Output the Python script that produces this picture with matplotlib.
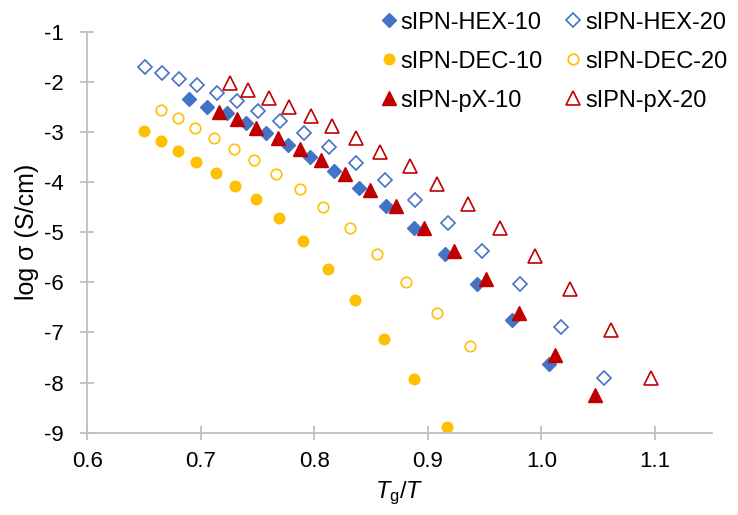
import matplotlib
matplotlib.use("Agg")
import matplotlib.pyplot as plt

# Datos (Tg/T, log sigma)
hex10_x = [0.690, 0.7055, 0.723, 0.740, 0.7575, 0.777, 0.796, 0.817, 0.839, 0.863, 0.888, 0.915, 0.943, 0.974, 1.007]
hex10_y = [-2.34, -2.50, -2.63, -2.83, -3.03, -3.26, -3.49, -3.78, -4.11, -4.47, -4.91, -5.43, -6.04, -6.75, -7.62]

hex20_x = [0.651, 0.666, 0.681, 0.697, 0.714, 0.732, 0.750, 0.770, 0.791, 0.813, 0.837, 0.862, 0.889, 0.918, 0.948, 0.981, 1.017, 1.055]
hex20_y = [-1.71, -1.82, -1.94, -2.06, -2.22, -2.38, -2.58, -2.78, -3.02, -3.30, -3.61, -3.96, -4.35, -4.81, -5.37, -6.04, -6.89, -7.91]

dec10_x = [0.650, 0.665, 0.680, 0.696, 0.713, 0.730, 0.749, 0.769, 0.790, 0.812, 0.836, 0.861, 0.888, 0.917]
dec10_y = [-2.98, -3.18, -3.38, -3.59, -3.81, -4.07, -4.34, -4.71, -5.18, -5.74, -6.36, -7.13, -7.92, -8.88]

dec20_x = [0.665, 0.680, 0.695, 0.712, 0.729, 0.747, 0.766, 0.787, 0.808, 0.831, 0.855, 0.881, 0.908, 0.937]
dec20_y = [-2.57, -2.73, -2.92, -3.12, -3.33, -3.56, -3.83, -4.13, -4.50, -4.92, -5.43, -5.99, -6.61, -7.27]

px10_x = [0.716, 0.732, 0.749, 0.768, 0.787, 0.806, 0.827, 0.849, 0.872, 0.897, 0.923, 0.951, 0.980, 1.012, 1.047]
px10_y = [-2.60, -2.75, -2.93, -3.12, -3.33, -3.55, -3.83, -4.15, -4.48, -4.91, -5.38, -5.94, -6.61, -7.44, -8.25]

px20_x = [0.726, 0.742, 0.760, 0.778, 0.797, 0.816, 0.837, 0.858, 0.884, 0.908, 0.935, 0.964, 0.994, 1.025, 1.061, 1.097]
px20_y = [-2.03, -2.16, -2.33, -2.50, -2.68, -2.88, -3.12, -3.40, -3.68, -4.03, -4.44, -4.92, -5.48, -6.14, -6.95, -7.90]

x_ticks = [0.6, 0.7, 0.8, 0.9, 1.0, 1.1]
y_ticks = [-9, -8, -7, -6, -5, -4, -3, -2, -1]

azul = "#4472C4"
naranja = "#FFC000"
rojo = "#C00000"
gris = "#BFBFBF"

plt.rcParams["font.family"] = ["Liberation Sans", "DejaVu Sans"]
plt.rcParams["axes.unicode_minus"] = False
plt.rcParams["mathtext.fontset"] = "custom"
plt.rcParams["mathtext.it"] = "Liberation Sans:italic"
plt.rcParams["mathtext.rm"] = "Liberation Sans"

fig = plt.figure(figsize=(7.38, 5.15), dpi=100)
ax = fig.add_axes([0.1183, 0.1598, 0.8459, 0.7786])

h10, = ax.plot(hex10_x, hex10_y, ls="none", marker="D", ms=6.8, color=azul, label="sIPN-HEX-10")
h20, = ax.plot(hex20_x, hex20_y, ls="none", marker="D", ms=6.8, mfc="white", mec=azul, mew=1.2, label="sIPN-HEX-20")
d10, = ax.plot(dec10_x, dec10_y, ls="none", marker="o", ms=7.6, color=naranja, label="sIPN-DEC-10")
d20, = ax.plot(dec20_x, dec20_y, ls="none", marker="o", ms=7.6, mfc="white", mec=naranja, mew=1.2, label="sIPN-DEC-20")
p10, = ax.plot(px10_x, px10_y, ls="none", marker="^", ms=9.5, color=rojo, label="sIPN-pX-10")
p20, = ax.plot(px20_x, px20_y, ls="none", marker="^", ms=9.5, mfc="white", mec=rojo, mew=1.2, label="sIPN-pX-20")

ax.set_xlim(0.6, 1.15)
ax.set_ylim(-9, -1)
ax.set_xticks(x_ticks)
ax.set_xticklabels([f"{v:.1f}" for v in x_ticks])
ax.set_yticks(y_ticks)
ax.set_yticklabels([str(v) for v in y_ticks])

for lado in ["top", "right"]:
    ax.spines[lado].set_visible(False)
for lado in ["left", "bottom"]:
    ax.spines[lado].set_color(gris)
    ax.spines[lado].set_linewidth(1.3)
ax.tick_params(direction="inout", length=10, width=1.3, color=gris, labelsize=16)
ax.tick_params(axis="x", pad=8)
ax.tick_params(axis="y", pad=12)

ax.set_xlabel(r"$T_\mathregular{g}$/$T$", fontsize=17, labelpad=6)
ax.set_ylabel("log σ (S/cm)", fontsize=18, labelpad=3.5)

# orden por columnas para que las filas queden como en el original
ax.legend(handles=[h10, d10, p10, h20, d20, p20], ncol=2, frameon=False, fontsize=17,
          loc="upper right", bbox_to_anchor=(1.025, 1.05), handlelength=0.6,
          handletextpad=0.21, columnspacing=0.97, labelspacing=0.72,
          borderpad=0, borderaxespad=0)

fig.savefig("out.png", dpi=100)
